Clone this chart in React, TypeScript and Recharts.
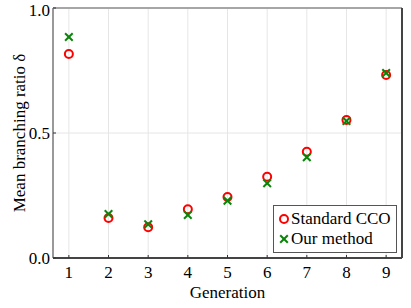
import {
  ScatterChart,
  Scatter,
  XAxis,
  YAxis,
  CartesianGrid,
  ReferenceLine,
  Legend,
} from "recharts";

const generations = [1, 2, 3, 4, 5, 6, 7, 8, 9];
const standardCco = [0.816, 0.16, 0.123, 0.195, 0.244, 0.325, 0.425, 0.552, 0.732];
const ourMethod = [0.884, 0.176, 0.135, 0.172, 0.229, 0.299, 0.403, 0.548, 0.74];
const yTicks = [0, 0.5, 1];

const standardData = generations.map((g, i) => ({ gen: g, value: standardCco[i] }));
const oursData = generations.map((g, i) => ({ gen: g, value: ourMethod[i] }));

const font = "Liberation Serif";
const red = "#ff0000";
const green = "#0a850a";
const xDomain = [0.6, 9.4];

const CircleMark = (props: any) => (
  <circle cx={props.cx} cy={props.cy} r={4} fill="none" stroke={red} strokeWidth={2} />
);

const CrossMark = (props: any) => {
  const { cx, cy } = props;
  const s = 3.8;
  return (
    <g stroke={green} strokeWidth={2}>
      <line x1={cx - s} y1={cy - s} x2={cx + s} y2={cy + s} />
      <line x1={cx - s} y1={cy + s} x2={cx + s} y2={cy - s} />
    </g>
  );
};

const YLabel = ({ viewBox }: any) => {
  const x = viewBox.x + 19;
  const y = viewBox.y + viewBox.height / 2;
  return (
    <text
      x={x}
      y={y}
      transform={`rotate(-90 ${x} ${y})`}
      textAnchor="middle"
      dy="0.35em"
      style={{ fontFamily: font, fontSize: 17, fill: "#000" }}
    >
      Mean branching ratio δ
    </text>
  );
};

const LegendBox = () => (
  <div
    style={{
      border: "1.5px solid #555",
      background: "#fff",
      fontFamily: font,
      fontSize: 17,
      padding: "3px 0 3px 4px",
      boxSizing: "border-box",
      width: 124,
      height: 48,
    }}
  >
    {[
      { name: "Standard CCO", mark: "o" },
      { name: "Our method", mark: "x" },
    ].map((item) => (
      <div key={item.name} style={{ display: "flex", alignItems: "center", height: 20 }}>
        <svg width={12} height={12} style={{ marginRight: 1 }}>
          {item.mark === "o" ? <CircleMark cx={6} cy={6} /> : <CrossMark cx={6} cy={6} />}
        </svg>
        <span>{item.name}</span>
      </div>
    ))}
  </div>
);

const tickStyle = { fontFamily: font, fontSize: 17, fill: "#000" };

export default function App() {
  return (
    <div style={{ position: "absolute", left: 0, top: 0, background: "#fff", fontFamily: font }}>
      <ScatterChart width={411} height={308} margin={{ top: 8, right: 9, bottom: 0, left: 0 }}>
        <CartesianGrid stroke="#e6e6e6" strokeWidth={1} />
        <XAxis
          type="number"
          dataKey="gen"
          domain={xDomain}
          ticks={generations}
          height={50}
          axisLine={false}
          tickLine={{ stroke: "#333", strokeWidth: 1 }}
          tickSize={-3}
          tickMargin={11}
          tick={tickStyle}
          label={{
            value: "Generation",
            position: "insideBottom",
            offset: 10,
            style: tickStyle,
          }}
        />
        <YAxis
          type="number"
          dataKey="value"
          domain={[0, 1]}
          ticks={yTicks}
          width={53}
          axisLine={false}
          tickLine={{ stroke: "#333", strokeWidth: 1 }}
          tickSize={-3}
          tickMargin={6}
          tickFormatter={(v: number) => v.toFixed(1)}
          tick={tickStyle}
          label={{ content: YLabel }}
        />
        <ReferenceLine y={1} stroke="#a6a6a6" strokeWidth={2} />
        <ReferenceLine x={xDomain[0]} stroke="#999" strokeWidth={2} />
        <ReferenceLine x={xDomain[1]} stroke="#444" strokeWidth={2} />
        <ReferenceLine y={0} stroke="#444" strokeWidth={2} />
        <Scatter name="Standard CCO" data={standardData} shape={CircleMark} isAnimationActive={false} />
        <Scatter name="Our method" data={oursData} shape={CrossMark} isAnimationActive={false} />
        <Legend
          layout="vertical"
          align="center"
          verticalAlign="middle"
          content={LegendBox}
          wrapperStyle={{ left: 273, top: 205, width: 124, height: 48 }}
        />
      </ScatterChart>
    </div>
  );
}
